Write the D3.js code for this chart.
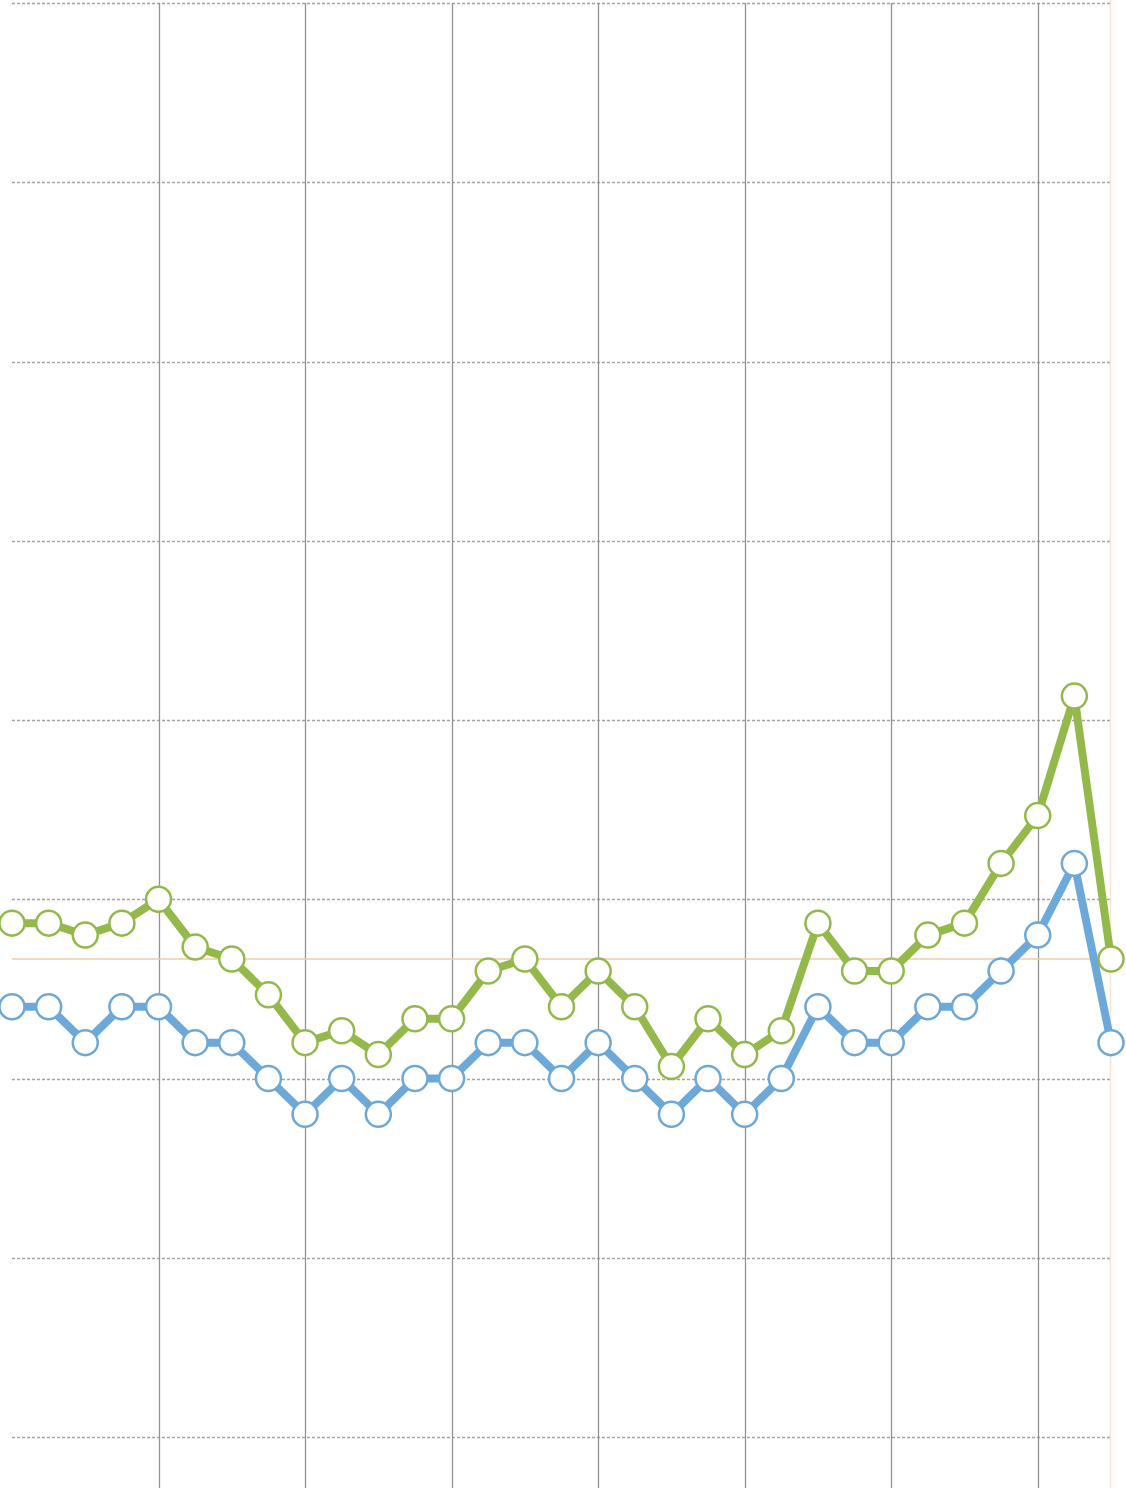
<!DOCTYPE html>
<html>
<head>
<meta charset="utf-8">
<script src="https://cdn.jsdelivr.net/npm/d3@7"></script>
<style>
html,body{margin:0;padding:0;background:#fff;}
svg{display:block;}
</style>
</head>
<body>
<svg id="chart" width="1126" height="1488"></svg>
<script>
// ---- data ----
const categories = d3.range(31);
const greenValues = [43,43,42,43,45,41,40,37,33,34,32,35,35,39,40,36,39,36,31,35,32,34,43,39,39,42,43,48,52,62,40];
const blueValues  = [36,36,33,36,36,33,33,30,27,30,27,30,30,33,33,30,33,30,27,30,27,30,36,33,33,36,36,39,42,48,33];
const yTicks = [0,15,30,45,60,75,90,105,120];
const xTicks = [4,8,12,16,20,24,28];
const referenceValue = 40;

// ---- layout ----
const W = 1126, H = 1488;
const plotLeft = 12, plotRight = 1111, plotTop = 3, plotBottom = 1437;
const svg = d3.select('#chart');

const x = d3.scaleLinear().domain([0, 30]).range([plotLeft, plotRight]);
const y = d3.scaleLinear().domain([0, 120]).range([plotBottom, plotTop]);

// horizontal dotted grid
svg.append('g').selectAll('line').data(yTicks).join('line')
  .attr('x1', plotLeft).attr('x2', plotRight - 1)
  .attr('y1', d => Math.round(y(d)) + 0.5).attr('y2', d => Math.round(y(d)) + 0.5)
  .attr('stroke', '#a3a3a3').attr('stroke-width', 1.5)
  .attr('stroke-dasharray', '3,2');

// vertical solid grid
svg.append('g').selectAll('line').data(xTicks).join('line')
  .attr('x1', d => Math.round(x(d)) + 0.5).attr('x2', d => Math.round(x(d)) + 0.5)
  .attr('y1', plotTop).attr('y2', H)
  .attr('stroke', '#939393').attr('stroke-width', 1.3);

// orange right edge line
svg.append('line')
  .attr('x1', x(30) - 0.5).attr('x2', x(30) - 0.5)
  .attr('y1', 0).attr('y2', H)
  .attr('stroke', '#fbe3d2').attr('stroke-width', 1.5);

// orange reference line
svg.append('line')
  .attr('x1', plotLeft).attr('x2', plotRight)
  .attr('y1', y(referenceValue)).attr('y2', y(referenceValue))
  .attr('stroke', '#f3cca3').attr('stroke-width', 1.5);

const series = [
  {values: blueValues, color: '#6ca8d8'},
  {values: greenValues, color: '#93b94b'}
];

const line = d3.line().x((d, i) => x(categories[i])).y(d => y(d));

series.forEach(s => {
  svg.append('path')
    .datum(s.values)
    .attr('d', line)
    .attr('fill', 'none')
    .attr('stroke', s.color)
    .attr('stroke-width', 8)
    .attr('stroke-linejoin', 'miter')
    .attr('stroke-miterlimit', 4);
});

series.forEach(s => {
  svg.append('g').selectAll('circle').data(s.values).join('circle')
    .attr('cx', (d, i) => x(categories[i]))
    .attr('cy', d => y(d))
    .attr('r', 12.5)
    .attr('fill', '#fff')
    .attr('stroke', s.color)
    .attr('stroke-width', 2.5);
});
</script>
</body>
</html>
